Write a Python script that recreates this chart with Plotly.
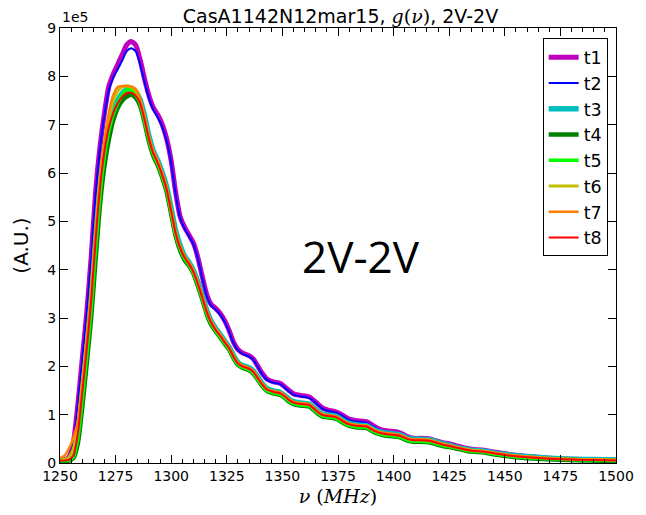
import plotly.graph_objects as go

# Frequency grid (MHz)
freq = [1250,1252,1254,1256,1258,1260,1262,1264,1266,1268,
        1270,1272,1274,1276,1278,1280,1282,1284,1286,1288,
        1290,1292,1294,1296,1298,1300,1302,1304,1306,1308,
        1310,1312,1314,1316,1318,1320,1322,1324,1326,1328,
        1330,1332,1335,1337,1339,1341,1343,1346,1349,1351,
        1353,1355,1358,1362,1364,1366,1368,1371,1374,1376,
        1378,1380,1383,1388,1390,1392,1395,1398,1402,1404,
        1406,1409,1412,1416,1419,1422,1425,1428,1432,1436,
        1440,1445,1450,1455,1460,1470,1480,1490,1500]

# g(nu) values in units of 1e5 (A.U.)
t1 = [0.05,0.06,0.12,0.42,1.20,2.15,3.10,4.25,5.60,6.55,
      7.25,7.80,8.05,8.25,8.45,8.65,8.72,8.65,8.35,7.95,
      7.60,7.35,7.20,7.00,6.70,6.25,5.60,5.10,4.88,4.72,
      4.55,4.25,3.85,3.48,3.28,3.20,3.10,2.95,2.75,2.50,
      2.35,2.28,2.22,2.15,2.00,1.85,1.74,1.68,1.65,1.58,
      1.50,1.43,1.40,1.37,1.30,1.22,1.14,1.09,1.06,1.02,
      0.96,0.91,0.88,0.85,0.80,0.74,0.68,0.66,0.64,0.60,
      0.55,0.51,0.51,0.50,0.46,0.42,0.40,0.36,0.31,0.28,
      0.27,0.23,0.19,0.16,0.14,0.10,0.08,0.07,0.06]
t2 = [0.05,0.06,0.12,0.40,1.18,2.12,3.08,4.22,5.55,6.50,
      7.20,7.72,7.98,8.15,8.33,8.52,8.58,8.52,8.25,7.88,
      7.55,7.30,7.15,6.95,6.65,6.20,5.56,5.07,4.85,4.69,
      4.52,4.22,3.82,3.45,3.25,3.17,3.07,2.92,2.72,2.48,
      2.33,2.26,2.20,2.13,1.98,1.83,1.72,1.66,1.63,1.56,
      1.48,1.41,1.38,1.35,1.28,1.20,1.12,1.07,1.04,1.00,
      0.94,0.89,0.86,0.83,0.78,0.72,0.66,0.64,0.62,0.58,
      0.53,0.49,0.49,0.48,0.44,0.40,0.38,0.34,0.30,0.27,
      0.26,0.22,0.18,0.15,0.13,0.10,0.08,0.07,0.06]
t3 = [0.05,0.05,0.07,0.14,0.58,1.42,2.32,3.32,4.58,5.68,
      6.43,6.95,7.28,7.50,7.65,7.72,7.74,7.68,7.52,7.18,
      6.76,6.45,6.25,6.00,5.70,5.26,4.80,4.50,4.28,4.15,
      3.98,3.74,3.45,3.15,2.93,2.78,2.66,2.53,2.40,2.22,
      2.08,2.02,1.97,1.90,1.77,1.64,1.54,1.49,1.46,1.40,
      1.32,1.27,1.24,1.22,1.15,1.07,1.01,0.99,0.97,0.92,
      0.86,0.82,0.79,0.77,0.72,0.67,0.63,0.61,0.59,0.56,
      0.52,0.49,0.49,0.48,0.44,0.40,0.37,0.33,0.29,0.26,
      0.25,0.21,0.18,0.15,0.13,0.10,0.08,0.07,0.06]
t4 = [0.04,0.04,0.05,0.10,0.40,1.15,2.05,3.00,4.20,5.35,
      6.15,6.70,7.10,7.35,7.50,7.58,7.62,7.56,7.40,7.05,
      6.65,6.35,6.15,5.90,5.60,5.15,4.70,4.40,4.20,4.08,
      3.92,3.66,3.38,3.08,2.86,2.72,2.60,2.47,2.35,2.17,
      2.03,1.97,1.92,1.85,1.72,1.59,1.49,1.44,1.41,1.35,
      1.27,1.22,1.19,1.17,1.10,1.02,0.96,0.94,0.92,0.87,
      0.81,0.77,0.74,0.72,0.67,0.62,0.58,0.56,0.54,0.51,
      0.47,0.44,0.44,0.43,0.39,0.35,0.33,0.30,0.26,0.23,
      0.22,0.18,0.15,0.12,0.10,0.08,0.06,0.05,0.04]
t5 = [0.05,0.05,0.06,0.12,0.50,1.30,2.20,3.18,4.42,5.55,
      6.35,6.88,7.22,7.45,7.62,7.72,7.72,7.62,7.45,7.08,
      6.68,6.38,6.18,5.93,5.63,5.18,4.73,4.43,4.23,4.10,
      3.93,3.68,3.40,3.10,2.88,2.73,2.61,2.48,2.36,2.18,
      2.04,1.98,1.93,1.86,1.73,1.60,1.50,1.45,1.42,1.36,
      1.28,1.23,1.20,1.18,1.11,1.03,0.97,0.95,0.93,0.88,
      0.82,0.78,0.75,0.73,0.68,0.63,0.59,0.57,0.55,0.52,
      0.48,0.45,0.45,0.44,0.40,0.36,0.34,0.31,0.27,0.24,
      0.23,0.19,0.16,0.13,0.11,0.09,0.07,0.06,0.05]
t6 = [0.06,0.07,0.12,0.30,0.80,1.65,2.55,3.55,4.80,5.90,
      6.65,7.15,7.50,7.70,7.78,7.80,7.78,7.70,7.50,7.15,
      6.74,6.43,6.23,5.98,5.68,5.22,4.77,4.47,4.27,4.14,
      3.97,3.72,3.44,3.14,2.92,2.77,2.65,2.52,2.39,2.21,
      2.07,2.01,1.96,1.89,1.76,1.63,1.53,1.48,1.45,1.39,
      1.31,1.26,1.23,1.21,1.14,1.06,1.00,0.98,0.96,0.91,
      0.85,0.81,0.78,0.76,0.71,0.66,0.62,0.60,0.58,0.55,
      0.51,0.48,0.48,0.47,0.43,0.39,0.36,0.33,0.29,0.26,
      0.25,0.21,0.18,0.15,0.13,0.10,0.08,0.07,0.06]
t7 = [0.10,0.15,0.30,0.52,0.85,1.60,2.50,3.50,4.75,5.85,
      6.65,7.25,7.62,7.78,7.80,7.80,7.79,7.74,7.55,7.18,
      6.76,6.45,6.25,6.00,5.70,5.24,4.78,4.48,4.28,4.15,
      3.98,3.73,3.45,3.15,2.93,2.78,2.66,2.53,2.40,2.22,
      2.08,2.02,1.97,1.90,1.77,1.64,1.54,1.49,1.46,1.40,
      1.32,1.27,1.24,1.22,1.15,1.07,1.01,0.99,0.97,0.92,
      0.86,0.82,0.79,0.77,0.72,0.67,0.63,0.61,0.59,0.56,
      0.52,0.49,0.49,0.48,0.44,0.40,0.37,0.33,0.29,0.26,
      0.25,0.21,0.18,0.15,0.13,0.10,0.08,0.07,0.06]
t8 = [0.05,0.05,0.07,0.15,0.60,1.45,2.35,3.35,4.60,5.70,
      6.45,6.95,7.25,7.45,7.58,7.65,7.66,7.60,7.45,7.10,
      6.70,6.40,6.20,5.95,5.65,5.20,4.75,4.45,4.25,4.12,
      3.95,3.70,3.42,3.12,2.90,2.75,2.63,2.50,2.38,2.20,
      2.06,2.00,1.95,1.88,1.75,1.62,1.52,1.47,1.44,1.38,
      1.30,1.25,1.22,1.20,1.13,1.05,0.99,0.97,0.95,0.90,
      0.84,0.80,0.77,0.75,0.70,0.65,0.61,0.59,0.57,0.54,
      0.50,0.47,0.47,0.46,0.42,0.38,0.35,0.32,0.28,0.25,
      0.24,0.20,0.17,0.14,0.12,0.09,0.07,0.06,0.05]

names = ["t1", "t2", "t3", "t4", "t5", "t6", "t7", "t8"]
series = [t1, t2, t3, t4, t5, t6, t7, t8]
colors = ["#bf00bf", "#0000ff", "#00bfbf", "#008000", "#00ff00", "#bfbf00", "#ff8000", "#ff0000"]
widths = [5, 2, 5.5, 4.5, 3.5, 3, 2.5, 2]

x_ticks = [1250, 1275, 1300, 1325, 1350, 1375, 1400, 1425, 1450, 1475, 1500]
y_ticks = [0, 1, 2, 3, 4, 5, 6, 7, 8, 9]

fig = go.Figure()
for n, s, c, w in zip(names, series, colors, widths):
    fig.add_trace(go.Scatter(x=freq, y=s, name=n, mode="lines",
                             line=dict(color=c, width=w, shape="spline", smoothing=0.6)))

font_main = "DejaVu Sans"
serif = "DejaVu Serif"

fig.update_layout(
    width=646, height=515,
    margin=dict(l=60, r=25, t=28, b=52),
    plot_bgcolor="white", paper_bgcolor="white",
    font=dict(family=font_main, size=14, color="black"),
    title=dict(
        text=("CasA1142N12mar15, <span style='font-family:DejaVu Serif'><i>g</i>(<i>ν</i>)</span>, 2V-2V"),
        x=(60 + 621) / 2 / 646, xanchor="center", y=1 - 16 / 515, yanchor="middle",
        font=dict(family=font_main, size=19, color="black")),
    showlegend=True,
    legend=dict(x=0.985, xanchor="right", y=0.976, yanchor="top",
                bgcolor="white", bordercolor="black", borderwidth=1,
                font=dict(family=font_main, size=17.5), itemwidth=30,
                tracegroupgap=0),
)

fig.update_xaxes(
    range=[1250, 1500], tickvals=x_ticks, ticktext=[str(v) for v in x_ticks],
    ticks="inside", ticklen=8, tickwidth=1, tickcolor="black",
    minor=dict(dtick=5, ticks="inside", ticklen=4, tickcolor="black", tickwidth=1),
    showline=True, linecolor="black", linewidth=1, mirror="allticks",
    showgrid=False, zeroline=False,
    tickfont=dict(family=font_main, size=14),
    title=dict(text="<i>ν</i> (<i>MHz</i>)", font=dict(family=serif, size=19), standoff=6),
)
fig.update_yaxes(
    range=[0, 9], tickvals=y_ticks, ticktext=[str(v) for v in y_ticks],
    ticks="inside", ticklen=8, tickwidth=1, tickcolor="black",
    showline=True, linecolor="black", linewidth=1, mirror="allticks",
    showgrid=False, zeroline=False,
    tickfont=dict(family=font_main, size=14),
    title=dict(text="(A.U.)", font=dict(family=font_main, size=20), standoff=13),
)

fig.add_annotation(text="1e5", xref="paper", yref="paper", x=0.0, y=1.0,
                   xanchor="left", yanchor="bottom", showarrow=False, yshift=1,
                   font=dict(family=font_main, size=14))
fig.add_annotation(text="2V-2V", xref="paper", yref="paper",
                   x=(364 - 60) / 561, y=(463 - 256) / 435,
                   xanchor="center", yanchor="middle", showarrow=False,
                   font=dict(family="Open Sans", size=44, color="black"))

fig.write_html("out.html")
